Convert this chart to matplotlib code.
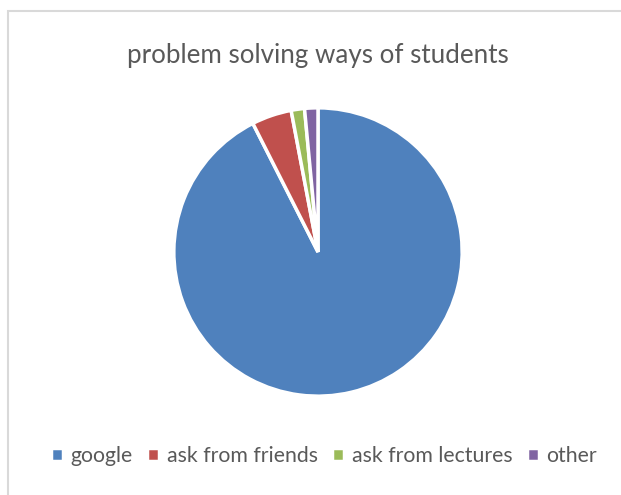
import matplotlib.pyplot as plt
from matplotlib.patches import Rectangle

labels = ["google", "ask from friends", "ask from lectures", "other"]
counts = [62, 3, 1, 1]
colors = ["#4F81BD", "#C0504D", "#9BBB59", "#8064A2"]

plt.rcParams['font.family'] = ['Lato', 'DejaVu Sans']

fig = plt.figure(figsize=(6.21, 4.95), dpi=100)

# chart frame (runs off the right and bottom edges)
fig.patches.append(Rectangle((7.5 / 621, -0.05), 1.1, 1.05 - 10.5 / 495, transform=fig.transFigure,
                             fill=False, edgecolor="#D9D9D9", linewidth=1.5))

# pie area: centre (318, 252), radius 142 px
ax = fig.add_axes([(318 - 142) / 621, 1 - (252 + 142) / 495, 284 / 621, 284 / 495])
wedges, _ = ax.pie(counts, colors=colors, startangle=90, counterclock=False,
                   wedgeprops=dict(edgecolor="white", linewidth=2.5))
ax.set_xlim(-0.985, 0.985)
ax.set_ylim(-0.985, 0.985)
ax.set_aspect("equal")

fig.text(318 / 621, 1 - 55 / 495, "problem solving ways of students",
         ha="center", va="center", fontsize=18.7, color="#595959")

leg = fig.legend(wedges, labels, loc="center", bbox_to_anchor=(324 / 621, 1 - 456 / 495),
                 ncol=4, frameon=False, fontsize=15.3, handlelength=0.55, handleheight=0.55,
                 handletextpad=0.35, columnspacing=0.7)
for t in leg.get_texts():
    t.set_color("#595959")

fig.savefig("out.png", dpi=100)
